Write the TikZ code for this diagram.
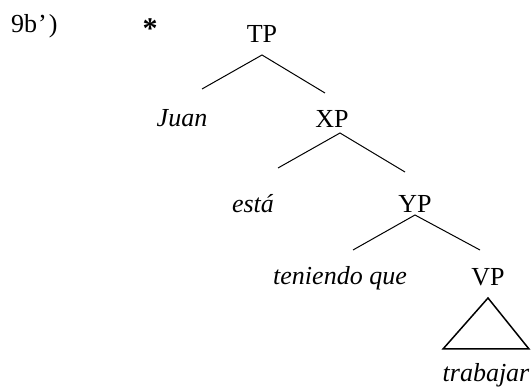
\documentclass[tikz,border=0pt]{standalone}
\usepackage{fontspec}
\setmainfont{Liberation Serif}
\usetikzlibrary{calc}
\begin{document}
\begin{tikzpicture}[x=1pt,y=-1pt,
  lbl/.style={inner sep=0pt,anchor=base,font=\fontsize{26}{30}\selectfont},
  ilbl/.style={lbl,font=\fontsize{26}{30}\selectfont\itshape},
  branch/.style={line width=1pt},
  tri/.style={line width=1.5pt,line join=miter}]
\useasboundingbox (0,0) rectangle (531,387);
\node[lbl,anchor=base west] (ex) at (11,33) {9b\kern1pt'\kern2pt)};
\node[inner sep=0pt,font=\fontsize{30}{34}\selectfont\bfseries] (star) at (150,29) {*};
\node[lbl] (TP) at (262,43) {TP};
\node[ilbl] (Juan) at (182,127) {Juan};
\node[lbl] (XP) at (332,128) {XP};
\node[ilbl] (esta) at (253,213) {está};
\node[lbl] (YP) at (415,213) {YP};
\node[ilbl] (ten) at (340,285) {teniendo que};
\node[lbl] (VP) at (488,286) {VP};
\node[ilbl] (trab) at (486,382) {trabajar};
\draw[branch] ($(Juan.base)+(20,-38)$) -- ($(TP.base)+(0,12)$) -- ($(XP.base)+(-7,-35)$);
\draw[branch] ($(esta.base)+(25,-45)$) -- ($(XP.base)+(8,5)$) -- ($(YP.base)+(-10,-41)$);
\draw[branch] ($(ten.base)+(13,-35)$) -- ($(YP.base)+(0,2)$) -- ($(VP.base)+(-8,-36)$);
\draw[tri] ($(VP.base)+(0,12)$) -- ($(trab.base)+(-43,-33)$) -- ($(trab.base)+(43,-33)$) -- cycle;
\end{tikzpicture}
\end{document}
